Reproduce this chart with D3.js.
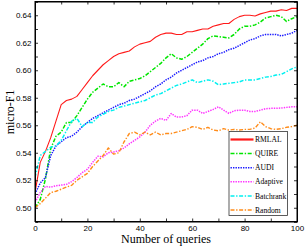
<!DOCTYPE html>
<html><head><meta charset="utf-8">
<script src="https://cdn.jsdelivr.net/npm/d3@7"></script>
<style>body{margin:0;background:#fff}svg{display:block}</style>
</head><body>
<svg id="c" width="305" height="249"></svg>
<script>
const queries = [0,2,4,6,8,10,12,14,16,18,20,22,24,26,28,30,32,34,36,38,40,42,44,46,48,50,52,54,56,58,60,62,64,66,68,70,72,74,76,78,80,82,84,86,88,90,92,94,96,98,100];
const rmlal = [0.511,0.533,0.541,0.551,0.563,0.575,0.578,0.579,0.581,0.586,0.591,0.596,0.600,0.604,0.607,0.610,0.612,0.613,0.614,0.617,0.619,0.620,0.621,0.624,0.626,0.627,0.627,0.626,0.626,0.628,0.628,0.629,0.630,0.630,0.632,0.633,0.634,0.634,0.637,0.639,0.640,0.640,0.6395,0.641,0.642,0.643,0.643,0.644,0.6435,0.645,0.645];
const quire = [0.500,0.506,0.521,0.543,0.552,0.555,0.562,0.562,0.567,0.573,0.579,0.584,0.587,0.590,0.588,0.588,0.591,0.588,0.592,0.593,0.594,0.596,0.599,0.602,0.605,0.609,0.612,0.609,0.608,0.610,0.613,0.616,0.619,0.623,0.625,0.6245,0.624,0.6235,0.626,0.630,0.632,0.632,0.633,0.635,0.638,0.639,0.640,0.639,0.6355,0.6375,0.639];
const audi = [0.510,0.518,0.522,0.538,0.545,0.548,0.551,0.552,0.555,0.559,0.562,0.565,0.567,0.569,0.571,0.573,0.575,0.576,0.578,0.579,0.581,0.583,0.585,0.588,0.590,0.593,0.595,0.598,0.600,0.602,0.604,0.606,0.607,0.609,0.610,0.612,0.613,0.615,0.616,0.618,0.620,0.622,0.623,0.625,0.626,0.626,0.626,0.625,0.626,0.627,0.629];
const adaptive = [0.504,0.511,0.5155,0.515,0.516,0.5165,0.517,0.519,0.522,0.5255,0.528,0.533,0.5375,0.537,0.540,0.5405,0.5415,0.5435,0.5465,0.549,0.5515,0.555,0.560,0.563,0.565,0.5635,0.5685,0.566,0.566,0.567,0.571,0.571,0.5686,0.570,0.5715,0.5734,0.571,0.5686,0.5705,0.571,0.571,0.570,0.570,0.571,0.572,0.5723,0.5723,0.5725,0.573,0.5734,0.5734];
const batchrank = [0.522,0.538,0.541,0.544,0.545,0.549,0.556,0.563,0.565,0.559,0.562,0.562,0.566,0.568,0.570,0.571,0.573,0.574,0.575,0.576,0.577,0.578,0.580,0.582,0.583,0.585,0.587,0.589,0.590,0.5915,0.593,0.591,0.592,0.593,0.592,0.5895,0.590,0.5905,0.591,0.5915,0.593,0.593,0.593,0.594,0.595,0.5955,0.5965,0.597,0.599,0.601,0.6025];
const random = [0.500,0.503,0.507,0.511,0.512,0.5135,0.515,0.5163,0.520,0.5225,0.525,0.530,0.534,0.538,0.5435,0.539,0.540,0.548,0.554,0.555,0.553,0.555,0.553,0.555,0.553,0.554,0.554,0.555,0.556,0.557,0.559,0.5585,0.557,0.5585,0.5565,0.556,0.5575,0.5565,0.557,0.5565,0.557,0.557,0.558,0.5625,0.559,0.5575,0.557,0.5575,0.5585,0.559,0.560];
const seriesNames = ["RMLAL","QUIRE","AUDI","Adaptive","Batchrank","Random"];
const xTicks = [0,20,40,60,80,100];
const yTicks = [0.50,0.52,0.54,0.56,0.58,0.60,0.62,0.64];

const seriesData = [rmlal, quire, audi, adaptive, batchrank, random];
const styles = [
  {color:"#ff1a1a", dash:null, w:1.1},
  {color:"#00e600", dash:"4,1.6,1.4,1.6", w:1.5},
  {color:"#1a1aff", dash:"1.4,1.1", w:1.5},
  {color:"#ff33ff", dash:"1.4,1.1", w:1.5},
  {color:"#00f0f0", dash:"4,1.6,1.4,1.6", w:1.5},
  {color:"#ff8c1a", dash:"4,1.6,1.4,1.6", w:1.4}
];

const L = 35, R = 297, T = 1.5, B = 221.5;
const svg = d3.select("#c");
const x = d3.scaleLinear().domain([0,100]).range([L,R]);
const y = d3.scaleLinear().domain([0.49,0.65]).range([B,T]);

svg.append("defs").append("clipPath").attr("id","clip")
  .append("rect").attr("x",L).attr("y",T).attr("width",R-L).attr("height",B-T);

const line = d3.line().x((d,i)=>x(queries[i])).y(d=>y(d));
const g = svg.append("g").attr("clip-path","url(#clip)");
seriesData.forEach((s,k)=>{
  g.append("path").attr("d", line(s)).attr("fill","none")
    .attr("stroke", styles[k].color).attr("stroke-width", styles[k].w)
    .attr("stroke-dasharray", styles[k].dash).attr("stroke-linejoin","round");
});

const minorX = d3.range(0,101,10), minorY = d3.range(0.49,0.6501,0.01);
const tickFont = "Liberation Sans, Arial, sans-serif";
const axB = svg.append("g").attr("transform",`translate(0,${B})`)
  .call(d3.axisBottom(x).tickValues(minorX).tickSize(-3).tickFormat(d=> xTicks.includes(d)? d3.format("d")(d):""));
const axT = svg.append("g").attr("transform",`translate(0,${T})`)
  .call(d3.axisTop(x).tickValues(minorX).tickSize(-3).tickFormat(""));
const axL = svg.append("g").attr("transform",`translate(${L},0)`)
  .call(d3.axisLeft(y).tickValues(minorY).tickSize(-3).tickFormat(d=>{
    const r = Math.round(d*100)/100; return yTicks.some(t=>Math.abs(t-r)<1e-9)? d3.format(".2f")(r):"";}));
const axR = svg.append("g").attr("transform",`translate(${R},0)`)
  .call(d3.axisRight(y).tickValues(minorY).tickSize(-3).tickFormat(""));
[axB,axT,axL,axR].forEach(a=>{
  a.select(".domain").attr("stroke","#000").attr("stroke-width",1);
  a.selectAll(".tick line").attr("stroke","#000").attr("stroke-width",0.8);
  a.selectAll("text").attr("font-family",tickFont).attr("font-size",8).attr("fill","#000");
});
axB.selectAll("text").attr("dy","0.71em").attr("y",3.8);
axL.selectAll("text").attr("x",-3.5);
svg.append("rect").attr("x",L).attr("y",T).attr("width",R-L).attr("height",B-T)
  .attr("fill","none").attr("stroke","#000").attr("stroke-width",1);

svg.append("text").attr("x",(L+R)/2).attr("y",243).attr("text-anchor","middle")
  .attr("font-family","Liberation Serif, Times New Roman, serif").attr("font-size",12)
  .text("Number of queries");
svg.append("text").attr("transform",`translate(14,112) rotate(-90)`).attr("text-anchor","middle")
  .attr("font-family","Liberation Serif, Times New Roman, serif").attr("font-size",12)
  .text("micro-F1");

const lg = svg.append("g");
lg.append("rect").attr("x",229).attr("y",131.5).attr("width",58.5).attr("height",84)
  .attr("fill","#fff").attr("stroke","#333").attr("stroke-width",0.8);
seriesNames.forEach((n,k)=>{
  const yy = 139.5 + k*14.1;
  lg.append("line").attr("x1",230.5).attr("x2",253.5).attr("y1",yy).attr("y2",yy)
    .attr("stroke",styles[k].color).attr("stroke-width", k===0?2.2:styles[k].w)
    .attr("stroke-dasharray",styles[k].dash);
  lg.append("text").attr("x",255).attr("y",yy+2.6)
    .attr("font-family","Liberation Serif, Times New Roman, serif").attr("font-size",7.6)
    .text(n);
});
</script>
</body></html>
